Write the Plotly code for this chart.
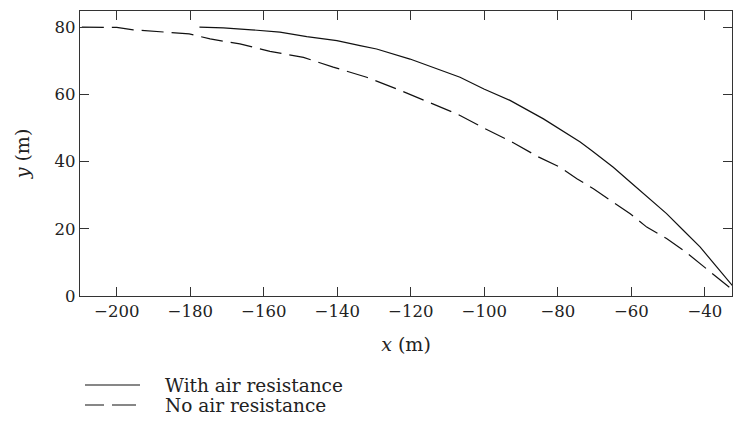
import plotly.graph_objects as go

# Trajectory without air resistance (dashed)
x_no_air = [-209.5, -200, -195.5, -182.8, -180.3, -174.6, -166.5, -158.3, -149.2, -141.1,
            -132.0, -122.9, -115.1, -107.3, -99.8, -92.1, -85.3, -79.4, -74.8, -70.3,
            -64.9, -60.3, -55.8, -50.4, -45.8, -41.3, -36.7, -32.3, -31.5]
y_no_air = [80.0, 79.9, 79.2, 78.2, 78.0, 76.5, 75.0, 72.8, 71.0, 68.1,
            65.1, 61.2, 57.7, 54.1, 49.8, 45.6, 41.4, 38.3, 34.9, 31.9,
            27.9, 24.5, 20.5, 17.1, 13.6, 9.6, 5.6, 1.7, 1.0]

# Trajectory with air resistance (solid)
x_air = [-177.5, -171.0, -163.3, -155.6, -148.3, -140.1, -133.8, -129.3, -120.2, -106.6,
         -100.1, -93.0, -83.9, -73.9, -70.8, -67.6, -64.9, -60.3, -54.9, -50.4,
         -45.8, -41.3, -36.7, -32.3, -31.5]
y_air = [80.0, 79.8, 79.2, 78.5, 77.2, 76.0, 74.5, 73.5, 70.5, 65.1,
         61.6, 58.2, 52.7, 45.8, 43.3, 40.5, 38.3, 33.9, 28.9, 24.5,
         19.5, 14.6, 8.6, 2.7, 1.8]

x_ticks = [-200, -180, -160, -140, -120, -100, -80, -60, -40]
y_ticks = [0, 20, 40, 60, 80]
legend_labels = ["With air resistance", "No air resistance"]

FONT = "DejaVu Serif"
INK = "#111111"
AXIS = "#333333"

fig = go.Figure()
fig.add_trace(go.Scatter(x=x_air, y=y_air, mode="lines", name=legend_labels[0],
                         line=dict(color=INK, width=1.2), showlegend=False))
fig.add_trace(go.Scatter(x=x_no_air, y=y_no_air, mode="lines", name=legend_labels[1],
                         line=dict(color=INK, width=1.2, dash="22px,8px"), showlegend=False))

axis_common = dict(
    showgrid=False, zeroline=False, showline=True, linecolor=AXIS, linewidth=1.2,
    mirror="ticks", ticks="inside", ticklen=9, tickwidth=1.2, tickcolor=AXIS,
    tickfont=dict(family=FONT, size=16.5, color="#222222"),
)

fig.update_xaxes(range=[-210, -32.6], tickvals=x_ticks,
                 title=dict(text="<i>x</i> (m)", font=dict(family=FONT, size=19, color="#222222"),
                            standoff=17),
                 **axis_common)
fig.update_yaxes(range=[0, 84.8], tickvals=y_ticks,
                 title=dict(text="<i>y</i> (m)", font=dict(family=FONT, size=19, color="#222222"),
                            standoff=19),
                 **axis_common)

# Legend drawn below the plot (sample lines + labels)
plot_l, plot_r, plot_t, plot_b = 80, 732, 11, 296
def px2paper_x(px):
    return (px - plot_l) / (plot_r - plot_l)
def px2paper_y(py):
    return (plot_b - py) / (plot_b - plot_t)

fig.add_shape(type="line", xref="paper", yref="paper",
              x0=px2paper_x(85), x1=px2paper_x(140), y0=px2paper_y(385), y1=px2paper_y(385),
              line=dict(color=INK, width=1.2))
fig.add_shape(type="line", xref="paper", yref="paper",
              x0=px2paper_x(85), x1=px2paper_x(137), y0=px2paper_y(405), y1=px2paper_y(405),
              line=dict(color=INK, width=1.2, dash="19px,8px,24px,100px"))
for label, py in zip(legend_labels, [385, 405]):
    fig.add_annotation(text=label, xref="paper", yref="paper",
                       x=px2paper_x(163), y=px2paper_y(py), xanchor="left", yanchor="middle",
                       showarrow=False, font=dict(family=FONT, size=18.5, color="#222222"))

fig.update_layout(
    width=733, height=421,
    margin=dict(l=plot_l, r=733 - plot_r, t=plot_t, b=421 - plot_b),
    paper_bgcolor="white", plot_bgcolor="white",
    showlegend=False,
)

fig.write_html("out.html", config={"displayModeBar": False},
               post_script="document.body.style.margin='0';document.body.style.overflow='hidden';")
